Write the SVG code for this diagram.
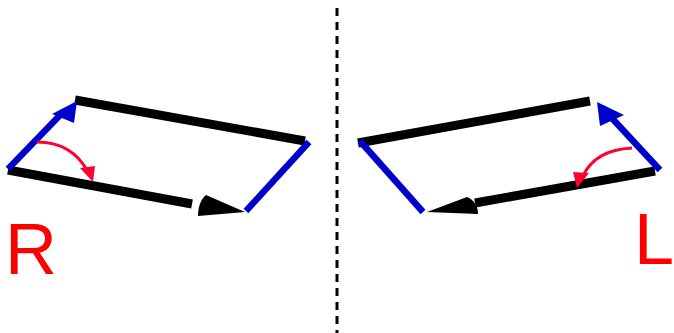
<svg xmlns="http://www.w3.org/2000/svg" width="674" height="333" viewBox="0 0 674 333">
<style>
.blk{stroke:#000;stroke-width:9;fill:none}
.blu{stroke:#0000cc;stroke-width:6.5;fill:none}
.red{stroke:#ff0033;stroke-width:3;fill:none}
.lbl{font-family:"Liberation Sans",Arial,sans-serif;font-size:72px;fill:#ff0000}
</style>
<rect width="674" height="333" fill="#fff"/>
<g id="connectors">
<line x1="337" y1="8" x2="337" y2="333" stroke="#000" stroke-width="3" stroke-dasharray="8,6"/>
</g>
<g id="R-shape">
<line class="blk" x1="75" y1="100" x2="305" y2="141"/>
<line class="blk" x1="8" y1="170" x2="192" y2="204"/>
<path d="M245,212 L206,195 C200,200 198,208 198,216 Z" fill="#000"/>
<line class="blu" x1="246" y1="211" x2="309" y2="142"/>
<line class="blu" x1="8" y1="169" x2="64" y2="111"/>
<polygon points="77,101 52,114 74,123" fill="#0000cc"/>
<path class="red" d="M37,142 Q72,142 88,172"/>
<polygon points="93,182 80,168 95,166" fill="#ff0033"/>
<text class="lbl" x="5" y="274">R</text>
</g>
<g id="L-shape">
<line class="blk" x1="358" y1="143" x2="590" y2="101"/>
<line class="blk" x1="655" y1="171" x2="475" y2="203"/>
<path d="M427,212 L467,197 C474,200 478,206 478,214 Z" fill="#000"/>
<line class="blu" x1="360" y1="141" x2="423" y2="212"/>
<line class="blu" x1="660" y1="170" x2="609" y2="115"/>
<polygon points="597,102 600,126 624,115" fill="#0000cc"/>
<path class="red" d="M632,148 Q595,150 583,176"/>
<polygon points="577,188 573,172 589,173" fill="#ff0033"/>
<text class="lbl" x="634" y="264">L</text>
</g>
</svg>
